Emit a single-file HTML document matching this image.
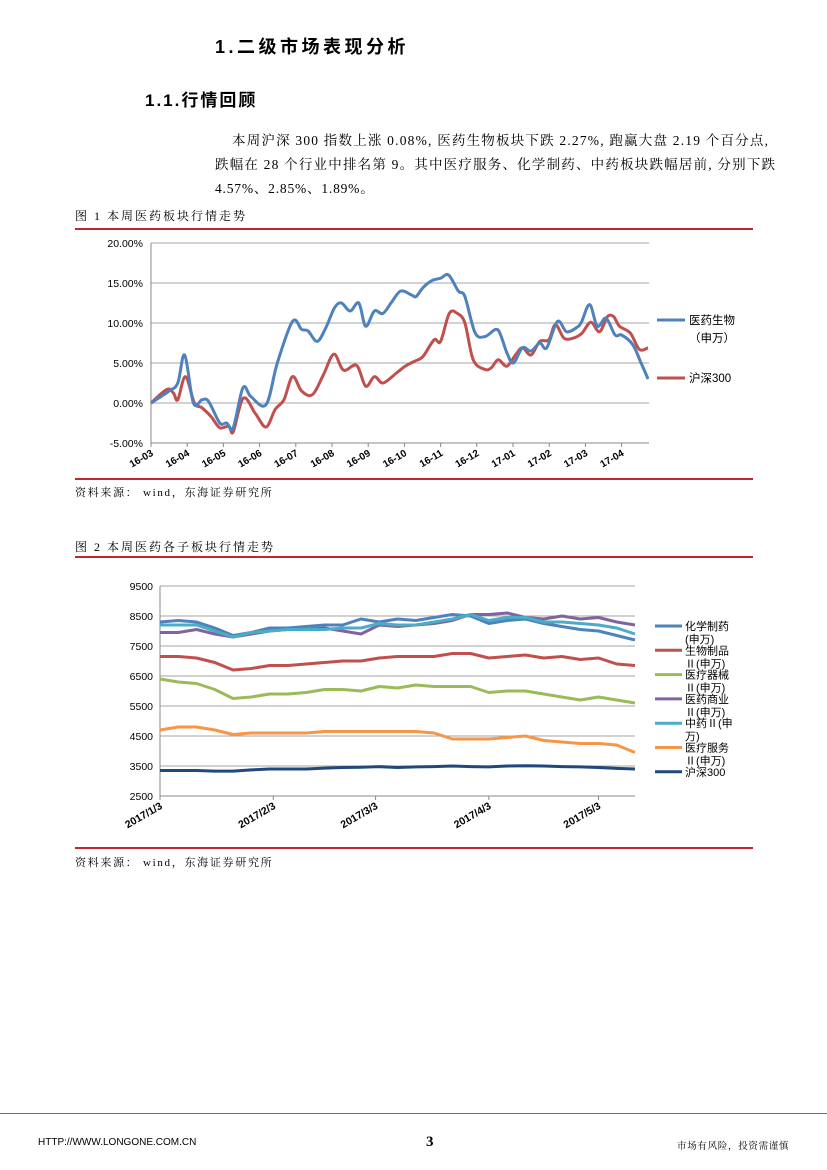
<!DOCTYPE html>
<html><head><meta charset="utf-8">
<style>
body{margin:0;background:#fff;}
#page{position:relative;width:827px;height:1170px;overflow:hidden;font-family:"Liberation Serif","Noto Serif CJK SC",serif;color:#000;}
.t{position:absolute;white-space:nowrap;}
.rl{position:absolute;height:2px;background:#c0282d;}
svg text{font-family:"Liberation Sans","Noto Sans CJK SC",sans-serif;}
</style></head><body>
<div id="page">
<div class="t" style="left:215px;top:33px;font-size:18px;letter-spacing:3.5px;font-weight:bold;font-family:'Liberation Sans','Noto Sans CJK SC',sans-serif;">1.二级市场表现分析</div>
<div class="t" style="left:145px;top:86px;font-size:17px;letter-spacing:2px;font-weight:bold;font-family:'Liberation Sans','Noto Sans CJK SC',sans-serif;">1.1.行情回顾</div>
<div class="t" style="left:232px;top:129px;font-size:13.5px;letter-spacing:1.2px;">本周沪深 300 指数上涨 0.08%, 医药生物板块下跌 2.27%, 跑赢大盘 2.19 个百分点,</div>
<div class="t" style="left:215px;top:153px;font-size:13.5px;letter-spacing:1.2px;">跌幅在 28 个行业中排名第 9。其中医疗服务、化学制药、中药板块跌幅居前, 分别下跌</div>
<div class="t" style="left:215px;top:177px;font-size:13.5px;letter-spacing:0.8px;">4.57%、2.85%、1.89%。</div>

<div class="t" style="left:75px;top:207px;font-size:12px;letter-spacing:2px;">图 1 本周医药板块行情走势</div>
<div class="rl" style="left:75px;top:228px;width:678px;"></div>
<svg id="c1" style="position:absolute;left:0;top:230px" width="827" height="250"></svg>
<div class="rl" style="left:75px;top:478px;width:678px;"></div>
<div class="t" style="left:75px;top:484px;font-size:11px;letter-spacing:1.7px;">资料来源： wind，东海证券研究所</div>

<div class="t" style="left:75px;top:538px;font-size:12px;letter-spacing:2px;">图 2 本周医药各子板块行情走势</div>
<div class="rl" style="left:75px;top:556px;width:678px;"></div>
<svg id="c2" style="position:absolute;left:0;top:558px" width="827" height="290"></svg>
<div class="rl" style="left:75px;top:847px;width:678px;"></div>
<div class="t" style="left:75px;top:854px;font-size:11px;letter-spacing:1.7px;">资料来源： wind，东海证券研究所</div>

<div class="rl" style="left:0;top:1113px;width:827px;height:1px;background:#c0504d;"></div>
<div class="t" style="left:38px;top:1137px;font-size:10px;font-family:'Liberation Sans',sans-serif;">HTTP://WWW.LONGONE.COM.CN</div>
<div class="t" style="left:426px;top:1134px;font-size:15px;font-weight:bold;">3</div>
<div class="t" style="left:677px;top:1138px;font-size:9.5px;letter-spacing:0.7px;">市场有风险，投资需谨慎</div>
</div>
<script>
const NS="http://www.w3.org/2000/svg";
function mk(p,tag,a,txt){const e=document.createElementNS(NS,tag);for(const k in a)e.setAttribute(k,a[k]);if(txt!==undefined)e.textContent=txt;p.appendChild(e);return e;}

// ---------- Chart 1 data ----------
const c1Months=["16-03","16-04","16-05","16-06","16-07","16-08","16-09","16-10","16-11","16-12","17-01","17-02","17-03","17-04"];
const c1YTicks=[20,15,10,5,0,-5];
const c1Time=[0,0.5,0.74,0.93,1.17,1.41,1.59,1.9,2.09,2.27,2.54,2.76,3.18,3.49,3.91,4.16,4.34,4.59,4.83,5.07,5.26,5.5,5.74,5.93,6.17,6.41,6.66,6.9,7.2,7.32,7.51,7.76,8.0,8.22,8.49,8.67,8.95,9.22,9.52,9.65,9.83,10.01,10.26,10.5,10.74,10.93,11.23,11.48,11.78,11.9,12.12,12.33,12.57,12.82,13.0,13.307,13.54,13.73];
const c1Pharma=[0,1.5,2.5,6,0,0.4,0.2,-2.5,-2.5,-3.1,1.9,0.8,-0.2,5,10.2,9.2,9,7.7,9.4,11.9,12.5,11.5,12.5,9.6,11.5,11.2,12.7,14,13.5,13.3,14.4,15.3,15.6,16,14,13.3,8.8,8.3,9.2,8.6,6.3,5,6.9,6.5,7.5,6.9,10.2,8.9,9.5,10.2,12.3,9.6,10.6,8.5,8.5,7.3,5,3];
const c1Time2=[0,0.44,0.62,0.74,0.95,1.2,1.41,1.66,1.9,2.15,2.27,2.55,2.88,3.18,3.43,3.67,3.91,4.16,4.46,4.76,5.05,5.32,5.68,5.93,6.17,6.41,6.78,7.02,7.27,7.51,7.82,8.0,8.24,8.46,8.67,8.9,9.22,9.4,9.59,9.83,10.07,10.26,10.5,10.74,10.99,11.17,11.41,11.66,11.9,12.15,12.39,12.61,12.78,12.94,13.24,13.49,13.73];
const c1Hs300=[0,1.7,1.25,0.4,3.3,0,-0.6,-1.7,-3.1,-2.9,-3.6,0.6,-1.3,-3.0,-0.8,0.4,3.3,1.5,1.05,3.5,6.1,4.1,4.7,2.1,3.3,2.5,3.75,4.6,5.2,5.8,7.9,7.7,11.2,11.2,10.0,5.4,4.2,4.4,5.4,4.6,6.0,6.9,6.0,7.7,7.9,9.8,8.1,8.1,8.7,10.1,8.9,10.8,10.8,9.6,8.75,6.7,6.9];

function smooth(pts){
 let d='M'+pts[0][0].toFixed(1)+' '+pts[0][1].toFixed(1);
 for(let i=0;i<pts.length-1;i++){
  const p0=pts[Math.max(0,i-1)],p1=pts[i],p2=pts[i+1],p3=pts[Math.min(pts.length-1,i+2)];
  const c1x=p1[0]+(p2[0]-p0[0])/6,c1y=p1[1]+(p2[1]-p0[1])/6,c2x=p2[0]-(p3[0]-p1[0])/6,c2y=p2[1]-(p3[1]-p1[1])/6;
  d+=` C${c1x.toFixed(1)} ${c1y.toFixed(1)} ${c2x.toFixed(1)} ${c2y.toFixed(1)} ${p2[0].toFixed(1)} ${p2[1].toFixed(1)}`;
 }
 return d;
}

(function(){
 const s=document.getElementById('c1'),oy=230;
 const x0=151,xm=36.2,yTop=243-oy,yBot=443-oy;
 const X=t=>x0+t*xm, Y=v=>yTop+(20-v)/25*(yBot-yTop), xEnd=649;
 c1YTicks.forEach(v=>{
  const g=mk(s,'line',{x1:x0,x2:xEnd,y1:Y(v),y2:Y(v),stroke:v===-5?'#888':'#a6a6a6','stroke-width':1});
  
  const l=mk(s,'text',{x:x0-8,y:Y(v)+4,'font-size':10.5,'text-anchor':'end',fill:'#000'},v.toFixed(2)+'%');
  
 });
 const ax=mk(s,'line',{x1:x0,x2:x0,y1:yTop,y2:yBot,stroke:'#888'});
 
 c1Months.forEach((m,i)=>{
  const tk=mk(s,'line',{x1:X(i),x2:X(i),y1:yBot,y2:yBot+4,stroke:'#888'});
  
  const l=mk(s,'text',{x:X(i)+3,y:yBot+12,'font-size':10,'font-weight':'bold','text-anchor':'end',transform:`rotate(-30 ${X(i)+3} ${yBot+12})`},m);
  
 });
 function line(ts,vs,c,name){
  const p=mk(s,'path',{d:smooth(ts.map((t,i)=>[X(t),Y(vs[i])])),fill:'none',stroke:c,'stroke-width':3,'stroke-linejoin':'round'});
  
 }
 line(c1Time2,c1Hs300,'#c0504d','hs300-line');
 line(c1Time,c1Pharma,'#4f81bd','pharma-line');
 const l1=mk(s,'line',{x1:657,x2:685,y1:320-oy,y2:320-oy,stroke:'#4f81bd','stroke-width':3});
 
 const t1=mk(s,'text',{x:689,y:324-oy,'font-size':11.5},'医药生物');
 
 const t1b=mk(s,'text',{x:689,y:342-oy,'font-size':11.5},'（申万）');
 
 const l2=mk(s,'line',{x1:657,x2:685,y1:378-oy,y2:378-oy,stroke:'#c0504d','stroke-width':3});
 
 const t2=mk(s,'text',{x:689,y:382-oy,'font-size':11.5},'沪深300');
 
})();

// ---------- Chart 2 data ----------
const c2Days=[0,5,10,15,20,25,30,35,40,45,50,55,60,65,70,75,80,85,90,95,100,105,110,115,120,125,130];
const c2XLabels=["2017/1/3","2017/2/3","2017/3/3","2017/4/3","2017/5/3"];
const c2XLabelDays=[0,31,59,90,120];
const c2YTicks=[9500,8500,7500,6500,5500,4500,3500,2500];
const c2Chem=[8300,8350,8300,8100,7850,7950,8100,8100,8150,8200,8200,8400,8300,8400,8350,8450,8550,8500,8250,8350,8400,8250,8150,8050,8000,7850,7700];
const c2Bio=[7150,7150,7100,6950,6700,6750,6850,6850,6900,6950,7000,7000,7100,7150,7150,7150,7250,7250,7100,7150,7200,7100,7150,7050,7100,6900,6850];
const c2Device=[6400,6300,6250,6050,5750,5800,5900,5900,5950,6050,6050,6000,6150,6100,6200,6150,6150,6150,5950,6000,6000,5900,5800,5700,5800,5700,5600];
const c2Commerce=[7950,7950,8050,7900,7800,7900,8000,8050,8050,8100,8000,7900,8200,8150,8200,8250,8350,8550,8550,8600,8450,8400,8500,8400,8450,8300,8200];
const c2TCM=[8200,8200,8200,8000,7800,7950,8000,8050,8050,8050,8100,8100,8250,8200,8200,8300,8400,8550,8350,8450,8450,8300,8300,8250,8200,8100,7900];
const c2Service=[4700,4800,4800,4700,4550,4600,4600,4600,4600,4650,4650,4650,4650,4650,4650,4600,4400,4400,4400,4450,4500,4350,4300,4250,4250,4200,3950];
const c2Hs300=[3350,3350,3350,3330,3330,3370,3400,3400,3400,3430,3450,3460,3480,3450,3470,3480,3500,3480,3470,3500,3510,3500,3480,3470,3450,3420,3400];

(function(){
 const s=document.getElementById('c2'),oy=558;
 const x0=160,xEnd=635,yTop=586-oy,yBot=796-oy;
 const X=d=>x0+d*(xEnd-x0)/130, Y=v=>yTop+(9500-v)/7000*(yBot-yTop);
 c2YTicks.forEach(v=>{
  const g=mk(s,'line',{x1:x0,x2:xEnd,y1:Y(v),y2:Y(v),stroke:v===2500?'#888':'#a6a6a6'});
  
  const l=mk(s,'text',{x:x0-7,y:Y(v)+4,'font-size':10.5,'text-anchor':'end'},String(v));
  
 });
 const ax=mk(s,'line',{x1:x0,x2:x0,y1:yTop,y2:yBot,stroke:'#888'});
 
 c2XLabels.forEach((m,i)=>{
  const x=X(c2XLabelDays[i]);
  const tk=mk(s,'line',{x1:x,x2:x,y1:yBot,y2:yBot+4,stroke:'#888'});
  
  const l=mk(s,'text',{x:x+3,y:yBot+12,'font-size':10.5,'font-weight':'bold','text-anchor':'end',transform:`rotate(-30 ${x+3} ${yBot+12})`},m);
  
 });
 const series=[
  [c2Hs300,'#1f497d','hs300-line'],[c2Service,'#f79646','medical-service-line'],[c2Device,'#9bbb59','medical-device-line'],
  [c2Bio,'#c0504d','biologics-line'],[c2Commerce,'#8064a2','pharma-commerce-line'],[c2Chem,'#4f81bd','chemical-pharma-line'],[c2TCM,'#4bacc6','tcm-line']];
 series.forEach(([vs,c,n])=>{
  const d=c2Days.map((t,i)=>(i?'L':'M')+X(t).toFixed(1)+' '+Y(vs[i]).toFixed(1)).join(' ');
  const p=mk(s,'path',{d:d,fill:'none',stroke:c,'stroke-width':3,'stroke-linejoin':'round'});
  
 });
 const leg=[['#4f81bd','化学制药','(申万)'],['#c0504d','生物制品','Ⅱ(申万)'],['#9bbb59','医疗器械','Ⅱ(申万)'],['#8064a2','医药商业','Ⅱ(申万)'],['#4bacc6','中药Ⅱ(申','万)'],['#f79646','医疗服务','Ⅱ(申万)'],['#1f497d','沪深300','']];
 leg.forEach((e,i)=>{
  const y=626+i*24.3-oy;
  const sw=mk(s,'line',{x1:655,x2:682,y1:y,y2:y,stroke:e[0],'stroke-width':3});
  
  const t=mk(s,'text',{x:685,y:y+4,'font-size':11},e[1]);
  
  if(e[2]){const t2=mk(s,'text',{x:685,y:y+17,'font-size':11},e[2]);
  }
 });
})();
</script>
</body></html>
